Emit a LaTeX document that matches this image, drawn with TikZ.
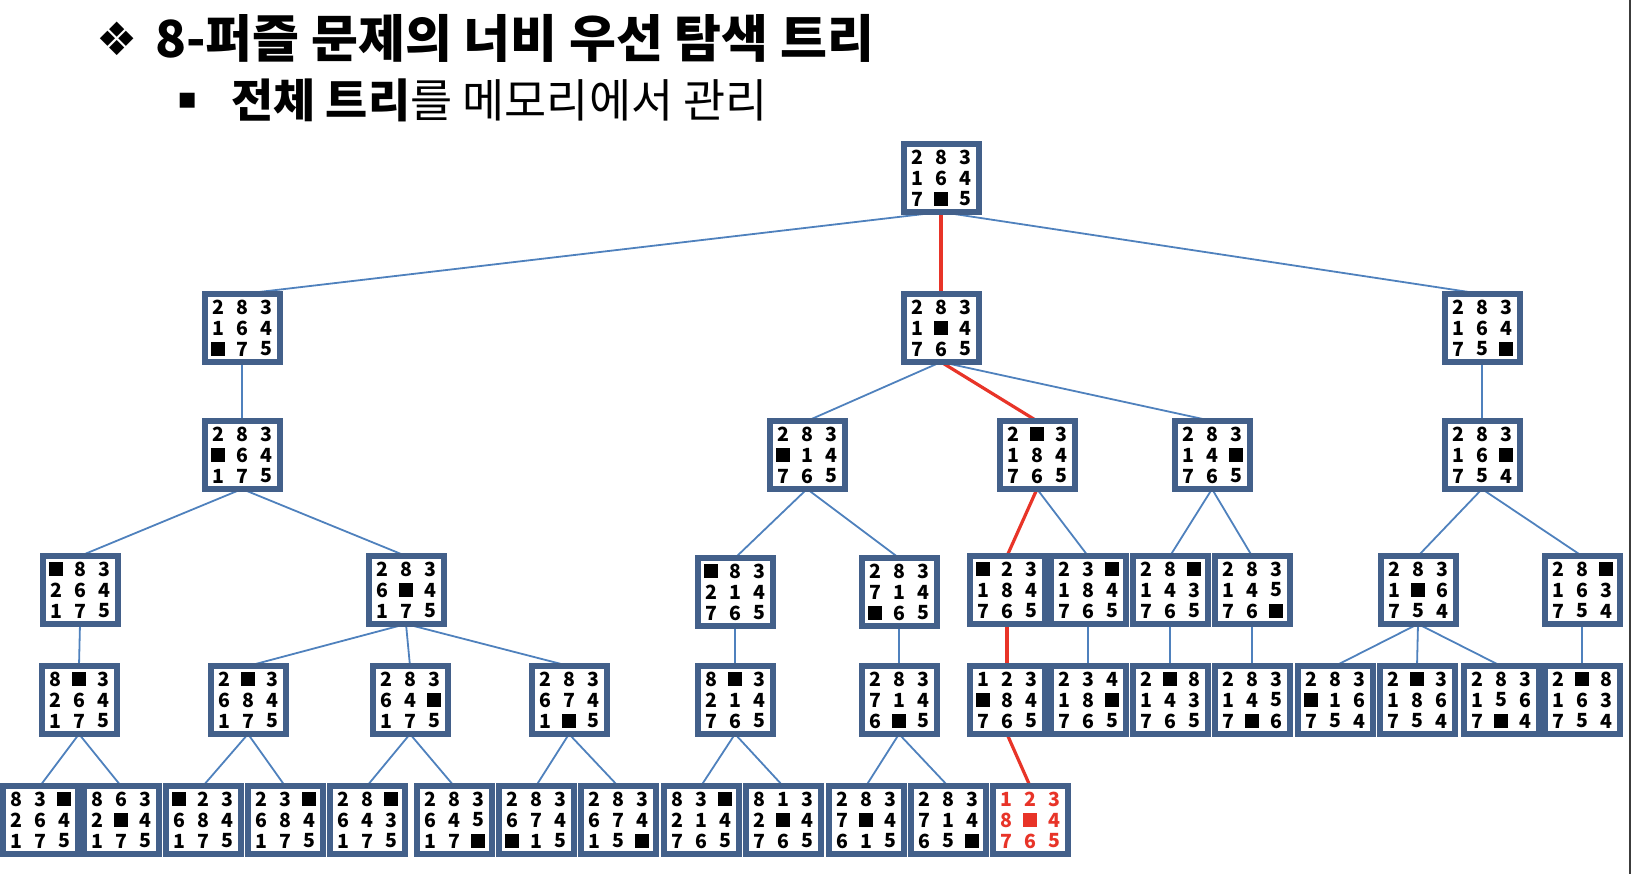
\documentclass[tikz,border=0pt]{standalone}
\usepackage{fontspec}
\setmainfont{Noto Sans CJK KR}
\newfontfamily\symfont{DejaVu Sans}
\usetikzlibrary{backgrounds}
\definecolor{boxc}{RGB}{67,96,138}
\definecolor{edgec}{RGB}{79,129,189}
\definecolor{pathc}{RGB}{232,52,40}
\definecolor{framec}{RGB}{60,60,60}
\tikzset{
  pbox/.style={draw=boxc, line width=6pt, fill=white, minimum width=75pt, minimum height=68pt, inner sep=0pt, outer sep=0pt},
  edge/.style={draw=edgec, line width=1.8pt},
  redge/.style={draw=pathc, line width=3.2pt},
  cell/.style={inner sep=0pt, font=\fontsize{19.5}{19.5}\selectfont\bfseries}
}
\newcommand{\pz}[5][black]{%
  \node[pbox] (#2) at (#3,#4) {};
  \foreach \v [count=\i from 0] in {#5} {%
    \pgfmathtruncatemacro\cc{mod(\i,3)}%
    \pgfmathtruncatemacro\rr{div(\i,3)}%
    \ifnum\v=0
      \fill[#1] ({#3+(\cc-1)*24-7},{#4+(\rr-1)*21-7}) rectangle ++(14,14);
    \else
      \node[cell, text=#1] (#2-\i) at ({#3+(\cc-1)*24},{#4+(\rr-1)*21}) {\v};
    \fi
  }%
}
\begin{document}
\begin{tikzpicture}[x=1pt,y=-1pt]
\useasboundingbox (0,0) rectangle (1632,874);
\draw[line width=2.5pt, framec] (1630,0) -- (1630,874);
% titles
\node[font=\symfont\fontsize{46}{46}\selectfont, inner sep=0pt] (dia) at (117,39) {❖};
\node[anchor=base west, inner sep=0pt, font=\fontsize{51}{51}\selectfont\bfseries] (title) at (155,58) {8-퍼즐 문제의 너비 우선 탐색 트리};
\node[font=\symfont\fontsize{30}{30}\selectfont, inner sep=0pt] (bul) at (188,101) {▪};
\node[anchor=base west, inner sep=0pt, font=\fontsize{45.8}{45.8}\selectfont] (sub) at (231,118) {\textbf{전체 트리}를 메모리에서 관리};
% level 0
\pz{root}{941}{178}{2,8,3,1,6,4,7,0,5}
% level 1
\pz{a}{242}{328}{2,8,3,1,6,4,0,7,5}
\pz{b}{941}{328}{2,8,3,1,0,4,7,6,5}
\pz{c}{1482}{328}{2,8,3,1,6,4,7,5,0}
% level 2
\pz{a1}{242}{455}{2,8,3,0,6,4,1,7,5}
\pz{b1}{807}{455}{2,8,3,0,1,4,7,6,5}
\pz{b2}{1037}{455}{2,0,3,1,8,4,7,6,5}
\pz{b3}{1212}{455}{2,8,3,1,4,0,7,6,5}
\pz{c1}{1482}{455}{2,8,3,1,6,0,7,5,4}
% level 3
\pz{a11}{80}{590}{0,8,3,2,6,4,1,7,5}
\pz{a12}{406}{590}{2,8,3,6,0,4,1,7,5}
\pz{b11}{735}{592}{0,8,3,2,1,4,7,6,5}
\pz{b12}{899}{592}{2,8,3,7,1,4,0,6,5}
\pz{b21}{1007}{590}{0,2,3,1,8,4,7,6,5}
\pz{b22}{1088}{590}{2,3,0,1,8,4,7,6,5}
\pz{b31}{1170}{590}{2,8,0,1,4,3,7,6,5}
\pz{b32}{1252}{590}{2,8,3,1,4,5,7,6,0}
\pz{c11}{1418}{590}{2,8,3,1,0,6,7,5,4}
\pz{c12}{1582}{590}{2,8,0,1,6,3,7,5,4}
% level 4
\pz{a111}{79}{700}{8,0,3,2,6,4,1,7,5}
\pz{a121}{248}{700}{2,0,3,6,8,4,1,7,5}
\pz{a122}{410}{700}{2,8,3,6,4,0,1,7,5}
\pz{a123}{569}{700}{2,8,3,6,7,4,1,0,5}
\pz{b111}{735}{700}{8,0,3,2,1,4,7,6,5}
\pz{b121}{899}{700}{2,8,3,7,1,4,6,0,5}
\pz{b211}{1007}{700}{1,2,3,0,8,4,7,6,5}
\pz{b221}{1088}{700}{2,3,4,1,8,0,7,6,5}
\pz{b311}{1170}{700}{2,0,8,1,4,3,7,6,5}
\pz{b321}{1252}{700}{2,8,3,1,4,5,7,0,6}
\pz{c111}{1335}{700}{2,8,3,0,1,6,7,5,4}
\pz{c112}{1417}{700}{2,0,3,1,8,6,7,5,4}
\pz{c113}{1501}{700}{2,8,3,1,5,6,7,0,4}
\pz{c121}{1582}{700}{2,0,8,1,6,3,7,5,4}
% level 5
\pz{a1111}{40}{820}{8,3,0,2,6,4,1,7,5}
\pz{a1112}{121}{820}{8,6,3,2,0,4,1,7,5}
\pz{a1211}{203}{820}{0,2,3,6,8,4,1,7,5}
\pz{a1212}{285}{820}{2,3,0,6,8,4,1,7,5}
\pz{a1221}{367}{820}{2,8,0,6,4,3,1,7,5}
\pz{a1222}{454}{820}{2,8,3,6,4,5,1,7,0}
\pz{a1231}{536}{820}{2,8,3,6,7,4,0,1,5}
\pz{a1232}{618}{820}{2,8,3,6,7,4,1,5,0}
\pz{b1111}{701}{820}{8,3,0,2,1,4,7,6,5}
\pz{b1112}{783}{820}{8,1,3,2,0,4,7,6,5}
\pz{b1211}{866}{820}{2,8,3,7,0,4,6,1,5}
\pz{b1212}{948}{820}{2,8,3,7,1,4,6,5,0}
\pz[pathc]{goal}{1030}{820}{1,2,3,8,0,4,7,6,5}
% connectors
\begin{scope}[on background layer]
\foreach \p/\q in {root/a, root/c, b/b1, b/b3, a/a1, a1/a11, a1/a12, b1/b11, b1/b12,
  b2/b22, b3/b31, b3/b32, c/c1, c1/c11, c1/c12, a11/a111, a12/a121, a12/a122, a12/a123,
  b11/b111, b12/b121, b22/b221, b31/b311, b32/b321, c11/c111, c11/c112, c11/c113, c12/c121,
  a111/a1111, a111/a1112, a121/a1211, a121/a1212, a122/a1221, a122/a1222, a123/a1231,
  a123/a1232, b111/b1111, b111/b1112, b121/b1211, b121/b1212}
  \draw[edge] (\p.south) -- (\q.north);
\foreach \p/\q in {root/b, b/b2, b2/b21, b21/b211, b211/goal}
  \draw[redge] (\p.south) -- (\q.north);
\end{scope}
\end{tikzpicture}
\end{document}
